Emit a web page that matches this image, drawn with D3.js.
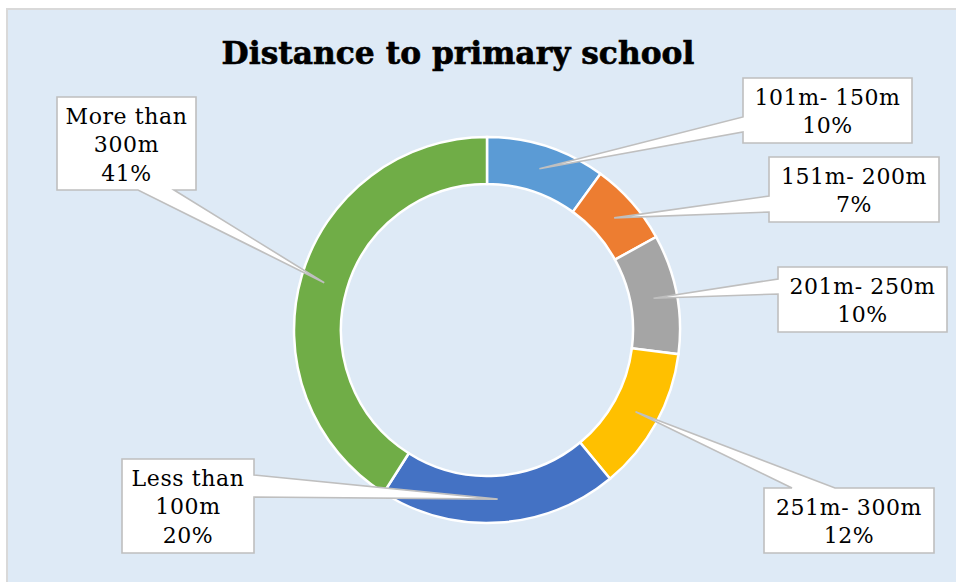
<!DOCTYPE html>
<html>
<head>
<meta charset="utf-8">
<script src="https://cdn.jsdelivr.net/npm/d3@7"></script>
<style>
  html, body { margin: 0; padding: 0; background: #ffffff; }
  svg { display: block; }
</style>
</head>
<body>
<script>
// Distance to the nearest primary school, share of respondents
const categories = ["101m- 150m", "151m- 200m", "201m- 250m", "251m- 300m", "Less than 100m", "More than 300m"];
const values = [10, 7, 10, 12, 20, 41];
const labelLines = [["101m- 150m"], ["151m- 200m"], ["201m- 250m"], ["251m- 300m"], ["Less than", "100m"], ["More than", "300m"]];
const colors = ["#5B9BD5", "#ED7D31", "#A5A5A5", "#FFC000", "#4472C4", "#70AD47"];
const title = "Distance to primary school";

// Callout boxes: box rectangle, the edge the pointer leaves from and where along it
const callouts = [
  { x: 743, y: 78,  w: 169, h: 65, side: "left",   a: 39, b: 54 },
  { x: 769, y: 157, w: 170, h: 65, side: "left",   a: 39, b: 55 },
  { x: 778, y: 267, w: 169, h: 65, side: "left",   a: 12, b: 27 },
  { x: 764, y: 488, w: 170, h: 65, side: "top",    a: 28, b: 71 },
  { x: 122, y: 459, w: 132, h: 94, side: "right",  a: 16, b: 38 },
  { x: 57,  y: 97,  w: 139, h: 93, side: "bottom", a: 81, b: 117 }
];

const W = 956, H = 582;
const cx = 487, cy = 330;
const rOuter = 193, rInner = 146;
const serif = "'DejaVu Serif', 'Liberation Serif', serif";

const svg = d3.select("body").append("svg").attr("width", W).attr("height", H);

// chart area
svg.append("rect")
  .attr("x", 7).attr("y", 9)
  .attr("width", W + 10).attr("height", H + 10)
  .attr("fill", "#DEEAF6")
  .attr("stroke", "#D9D9D9").attr("stroke-width", 2);

// title, fitted to its measured width
const titleText = svg.append("text")
  .attr("x", 458).attr("y", 64)
  .attr("text-anchor", "middle")
  .attr("font-family", serif)
  .attr("font-weight", "bold")
  .attr("font-size", 32)
  .attr("fill", "#000")
  .attr("stroke", "#000").attr("stroke-width", 0.6)
  .text(title);
const tw = titleText.node().getComputedTextLength();
titleText.attr("font-size", 32 * 473 / tw);

// donut
const pie = d3.pie().sort(null).value(d => d);
const arcs = pie(values);
const arc = d3.arc().innerRadius(rInner).outerRadius(rOuter);

const g = svg.append("g").attr("transform", `translate(${cx},${cy})`);
g.selectAll("path.slice")
  .data(arcs)
  .join("path")
  .attr("class", "slice")
  .attr("d", arc)
  .attr("fill", (d, i) => colors[i])
  .attr("stroke", "#ffffff")
  .attr("stroke-width", 2.5);

// callouts with pointers to slice centroids
function calloutPath(c, tip) {
  const x0 = c.x, y0 = c.y, x1 = c.x + c.w, y1 = c.y + c.h;
  const [tx, ty] = tip;
  switch (c.side) {
    case "left":
      return `M${x0},${y0}H${x1}V${y1}H${x0}V${y0 + c.b}L${tx},${ty}L${x0},${y0 + c.a}Z`;
    case "right":
      return `M${x0},${y0}H${x1}V${y0 + c.a}L${tx},${ty}L${x1},${y0 + c.b}V${y1}H${x0}Z`;
    case "top":
      return `M${x0},${y0}H${x0 + c.a}L${tx},${ty}L${x0 + c.b},${y0}H${x1}V${y1}H${x0}Z`;
    default:
      return `M${x0},${y0}H${x1}V${y1}H${x0 + c.b}L${tx},${ty}L${x0 + c.a},${y1}H${x0}Z`;
  }
}

const labels = svg.append("g");
arcs.forEach((d, i) => {
  const c = callouts[i];
  const [px, py] = arc.centroid(d);
  const tip = [cx + px, cy + py];
  labels.append("path")
    .attr("d", calloutPath(c, tip))
    .attr("fill", "#ffffff")
    .attr("stroke", "#BFBFBF")
    .attr("stroke-width", 1.6)
    .attr("stroke-linejoin", "miter");

  const lines = labelLines[i].concat([d3.format(".0f")(values[i]) + "%"]);
  const t = labels.append("text")
    .attr("text-anchor", "middle")
    .attr("font-family", serif)
    .attr("font-size", 22)
    .attr("letter-spacing", 0.6)
    .attr("fill", "#000");
  lines.forEach((s, k) => {
    t.append("tspan")
      .attr("x", c.x + c.w / 2)
      .attr("y", c.y + 26.5 + k * 28.5)
      .text(s);
  });
});
</script>
</body>
</html>
